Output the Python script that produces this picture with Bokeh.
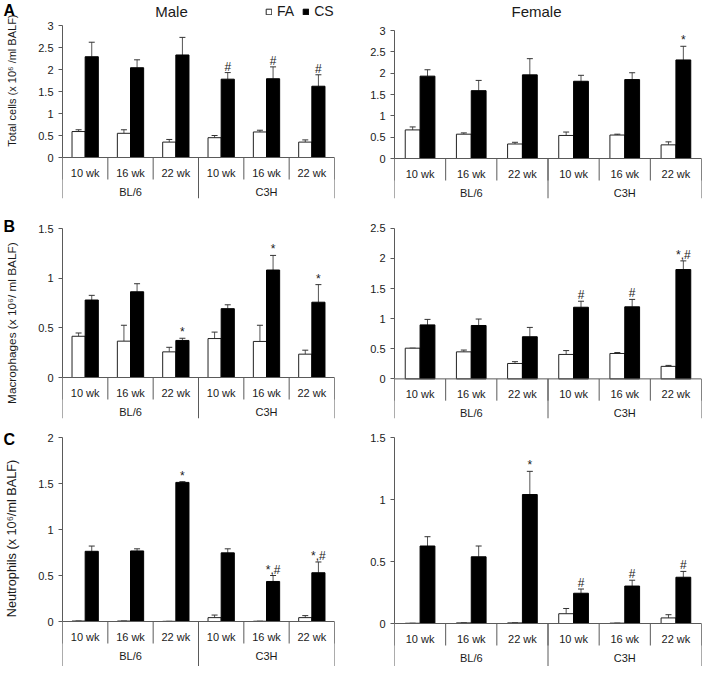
import math
from bokeh.plotting import figure
from bokeh.models import (Range1d, ColumnDataSource, FixedTicker, Whisker, TeeHead,
                          Legend, LegendItem, Span)
from bokeh.layouts import gridplot
from bokeh.embed import file_html
from bokeh.resources import INLINE
from bokeh.core.properties import value

# ---------------- data ----------------
strains = ["BL/6", "C3H"]
ages = ["10 wk", "16 wk", "22 wk"]
series = ["FA", "CS"]

# A: total cells (x 10^6 / ml BALF)
male_total_fa = [0.59, 0.55, 0.35, 0.45, 0.58, 0.35]
male_total_fa_err = [0.04, 0.08, 0.06, 0.05, 0.04, 0.05]
male_total_cs = [2.29, 2.04, 2.33, 1.78, 1.79, 1.62]
male_total_cs_err = [0.33, 0.18, 0.40, 0.15, 0.27, 0.26]
male_total_marks = ["", "", "", "#", "#", "#"]

female_total_fa = [0.67, 0.57, 0.34, 0.54, 0.55, 0.32]
female_total_fa_err = [0.07, 0.03, 0.04, 0.08, 0.02, 0.07]
female_total_cs = [1.93, 1.59, 1.96, 1.81, 1.85, 2.31]
female_total_cs_err = [0.15, 0.24, 0.38, 0.14, 0.16, 0.32]
female_total_marks = ["", "", "", "", "", "*"]

# B: macrophages
male_mac_fa = [0.415, 0.366, 0.258, 0.392, 0.363, 0.235]
male_mac_fa_err = [0.033, 0.16, 0.046, 0.065, 0.163, 0.04]
male_mac_cs = [0.78, 0.863, 0.373, 0.693, 1.082, 0.758]
male_mac_cs_err = [0.047, 0.081, 0.022, 0.039, 0.147, 0.177]
male_mac_marks = ["", "", "*", "", "*", "*"]

female_mac_fa = [0.51, 0.449, 0.256, 0.406, 0.422, 0.208]
female_mac_fa_err = [0.0, 0.03, 0.03, 0.064, 0.016, 0.016]
female_mac_cs = [0.897, 0.887, 0.70, 1.19, 1.197, 1.816]
female_mac_cs_err = [0.091, 0.107, 0.155, 0.10, 0.123, 0.144]
female_mac_marks = ["", "", "", "#", "#", "*,#"]

# C: neutrophils
male_neu_fa = [0.005, 0.005, 0.002, 0.042, 0.003, 0.042]
male_neu_fa_err = [0.0, 0.0, 0.0, 0.028, 0.0, 0.022]
male_neu_cs = [0.763, 0.767, 1.512, 0.746, 0.435, 0.53]
male_neu_cs_err = [0.057, 0.023, 0.008, 0.044, 0.065, 0.117]
male_neu_marks = ["", "", "*", "", "*,#", "*,#"]

female_neu_fa = [0.002, 0.005, 0.005, 0.079, 0.003, 0.045]
female_neu_fa_err = [0.0, 0.0, 0.0, 0.042, 0.0, 0.026]
female_neu_cs = [0.625, 0.538, 1.04, 0.244, 0.302, 0.373]
female_neu_cs_err = [0.075, 0.087, 0.187, 0.034, 0.047, 0.047]
female_neu_marks = ["", "", "*", "#", "#", "#"]

ticks_3 = [0, 0.5, 1, 1.5, 2, 2.5, 3]
ticks_3_labels = ["0", "0.5", "1", "1.5", "2", "2.5", "3"]
ticks_15 = [0, 0.5, 1, 1.5]
ticks_15_labels = ["0", "0.5", "1", "1.5"]
ticks_25 = [0, 0.5, 1, 1.5, 2, 2.5]
ticks_25_labels = ["0", "0.5", "1", "1.5", "2", "2.5"]
ticks_2 = [0, 0.5, 1, 1.5, 2]
ticks_2_labels = ["0", "0.5", "1", "1.5", "2"]

panel_letters = ["A", "B", "C"]
y_titles = ["Total cells (x 10\u2076 /ml BALF)",
            "Macrophages (x 10\u2076/ ml BALF)",
            "Neutrophils (x 10\u2076/ml BALF)"]
sexes = ["Male", "Female"]

# ---------------- styling ----------------
FONT = "Liberation Sans"
AX = "#5a5a5a"
TXT = "#1a1a1a"
BAR_W = 0.29
SHORT_SEP = 22   # px below zero line
SUB_LAB = 15     # px below zero line (center)
GRP_LAB = 34     # px below zero line (center)
LAB_COL_W = 22


def make_label_col(height, letter, letter_top, ytitle, ytitle_center, ytitle_size):
    q = figure(width=LAB_COL_W, height=height, x_range=Range1d(0, LAB_COL_W),
               y_range=Range1d(0, height), output_backend="svg",
               toolbar_location=None, x_axis_location=None, y_axis_location=None,
               min_border=0)
    q.outline_line_color = None
    for g in q.grid:
        g.visible = False
    q.text(x=[3], y=[height - letter_top], text=[letter], text_align="left",
           text_baseline="top", text_font=value(FONT), text_font_size="16px",
           text_font_style="bold", text_color="black")
    q.text(x=[LAB_COL_W / 2], y=[height - ytitle_center], text=[ytitle],
           angle=math.pi / 2, text_align="center", text_baseline="middle",
           text_font=value(FONT), text_font_size=ytitle_size, text_color=TXT)
    return q


def make_panel(width, height, left, right, top_px, zero_px, bottom_px, ymax,
               ticks, tick_labels, fa, fa_err, cs, cs_err, marks,
               title=None, title_x=None, legend=False):
    ppu = (zero_px - top_px) / ymax
    ymin = -(bottom_px - zero_px) / ppu
    ytop = ymax + top_px / ppu
    n = len(strains) * len(ages)
    frame_w = width - left - right
    xppu = frame_w / n
    p = figure(width=width, height=height, x_range=Range1d(0, n),
               y_range=Range1d(ymin, ytop), output_backend="svg",
               toolbar_location=None, x_axis_location=None,
               min_border_left=left, min_border_right=right,
               min_border_top=0, min_border_bottom=height - bottom_px)
    p.outline_line_color = None
    p.grid.visible = False
    p.background_fill_color = "white"
    p.border_fill_color = "white"

    ax = p.yaxis[0]
    ax.ticker = FixedTicker(ticks=ticks)
    ax.major_label_overrides = {t: l for t, l in zip(ticks, tick_labels)}
    ax.bounds = (0, ymax)
    ax.axis_line_color = AX
    ax.major_tick_line_color = AX
    ax.minor_tick_line_color = None
    ax.major_tick_out = 4
    ax.major_tick_in = 0
    ax.major_label_standoff = 5
    ax.major_label_text_font = FONT
    ax.major_label_text_font_size = "11px"
    ax.major_label_text_color = TXT

    idx = [i + 0.5 for i in range(n)]
    src = ColumnDataSource(dict(
        x_fa=[x - BAR_W / 2 for x in idx],
        x_cs=[x + BAR_W / 2 for x in idx],
        fa=fa, cs=cs,
        fa_hi=[v + e for v, e in zip(fa, fa_err)],
        cs_hi=[v + e for v, e in zip(cs, cs_err)],
        marks=marks,
    ))
    r_fa = p.vbar(x="x_fa", top="fa", bottom=0, width=BAR_W, source=src,
                  fill_color="white", line_color="#222222", line_width=1)
    r_cs = p.vbar(x="x_cs", top="cs", bottom=0, width=BAR_W, source=src,
                  fill_color="black", line_color="black", line_width=1)
    for base, lo, hi in (("x_fa", "fa", "fa_hi"), ("x_cs", "cs", "cs_hi")):
        w = Whisker(source=src, base=base, lower=lo, upper=hi, dimension="height",
                    line_color="#555555", line_width=1, lower_head=None,
                    upper_head=TeeHead(size=6, line_color="#333333", line_width=1))
        p.add_layout(w)

    p.text(x="x_cs", y="cs_hi", text="marks", source=src, text_align="center",
           text_baseline="alphabetic", y_offset=-6, text_font=value(FONT),
           text_font_size="12px", text_color=TXT)

    # category box below the zero line
    p.add_layout(Span(location=0, dimension="width", line_color=AX, line_width=1))
    bounds_x = list(range(n + 1))
    p.segment(x0=bounds_x, x1=bounds_x, y0=[0] * len(bounds_x),
              y1=[-SHORT_SEP / ppu] * len(bounds_x), line_color=AX, line_width=1)
    grp_x = [i * len(ages) for i in range(len(strains) + 1)]
    p.segment(x0=grp_x, x1=grp_x, y0=[0] * len(grp_x), y1=[ymin] * len(grp_x),
              line_color=AX, line_width=1)
    p.text(x=idx, y=[-SUB_LAB / ppu] * n, text=ages * len(strains),
           text_align="center", text_baseline="middle", text_font=value(FONT),
           text_font_size="11px", text_color=TXT)
    p.text(x=[len(ages) * (i + 0.5) for i in range(len(strains))],
           y=[-GRP_LAB / ppu] * len(strains), text=strains,
           text_align="center", text_baseline="middle", text_font=value(FONT),
           text_font_size="11px", text_color=TXT)

    if title:
        p.text(x=[(title_x - left) / xppu], y=[ytop - 2 / ppu], text=[title],
               text_align="center", text_baseline="top", text_font=value(FONT),
               text_font_size="15px", text_color=TXT)
    if legend:
        lg = Legend(items=[LegendItem(label=series[0], renderers=[r_fa]),
                           LegendItem(label=series[1], renderers=[r_cs])],
                    orientation="horizontal", location=(203, bottom_px - 3 - 16),
                    glyph_width=7, glyph_height=7, label_standoff=5, spacing=8,
                    padding=0, margin=0, border_line_color=None,
                    background_fill_alpha=0, label_text_font=FONT,
                    label_text_font_size="14px", label_text_color=TXT,
                    label_width=10, label_height=16)
        p.add_layout(lg)
    return p


LW = 352 - LAB_COL_W
LL = 62 - LAB_COL_W

lA = make_label_col(215, panel_letters[0], 2, y_titles[0], 87, "11px")
lB = make_label_col(215, panel_letters[1], 3, y_titles[1], 114, "11.8px")
lC = make_label_col(236, panel_letters[2], 0, y_titles[2], 108, "12.7px")

pAL = make_panel(LW, 215, LL, 18, 25, 157, 198, 3, ticks_3, ticks_3_labels,
                 male_total_fa, male_total_fa_err, male_total_cs, male_total_cs_err,
                 male_total_marks, title=sexes[0], title_x=171 - LAB_COL_W, legend=True)
pAR = make_panel(353, 215, 42, 4, 30, 158, 198, 3, ticks_3, ticks_3_labels,
                 female_total_fa, female_total_fa_err, female_total_cs, female_total_cs_err,
                 female_total_marks, title=sexes[1], title_x=184)
pBL = make_panel(LW, 215, LL, 18, 13, 162, 203, 1.5, ticks_15, ticks_15_labels,
                 male_mac_fa, male_mac_fa_err, male_mac_cs, male_mac_cs_err,
                 male_mac_marks)
pBR = make_panel(353, 215, 40, 3, 13, 165, 205, 2.5, ticks_25, ticks_25_labels,
                 female_mac_fa, female_mac_fa_err, female_mac_cs, female_mac_cs_err,
                 female_mac_marks)
pCL = make_panel(LW, 236, LL, 18, 7, 191, 236, 2, ticks_2, ticks_2_labels,
                 male_neu_fa, male_neu_fa_err, male_neu_cs, male_neu_cs_err,
                 male_neu_marks)
pCR = make_panel(353, 236, 42, 4, 7, 193, 236, 1.5, ticks_15, ticks_15_labels,
                 female_neu_fa, female_neu_fa_err, female_neu_cs, female_neu_cs_err,
                 female_neu_marks)

grid = gridplot([[lA, pAL, pAR], [lB, pBL, pBR], [lC, pCL, pCR]],
                toolbar_location=None)

open("out.html", "w").write(file_html(grid, INLINE))
